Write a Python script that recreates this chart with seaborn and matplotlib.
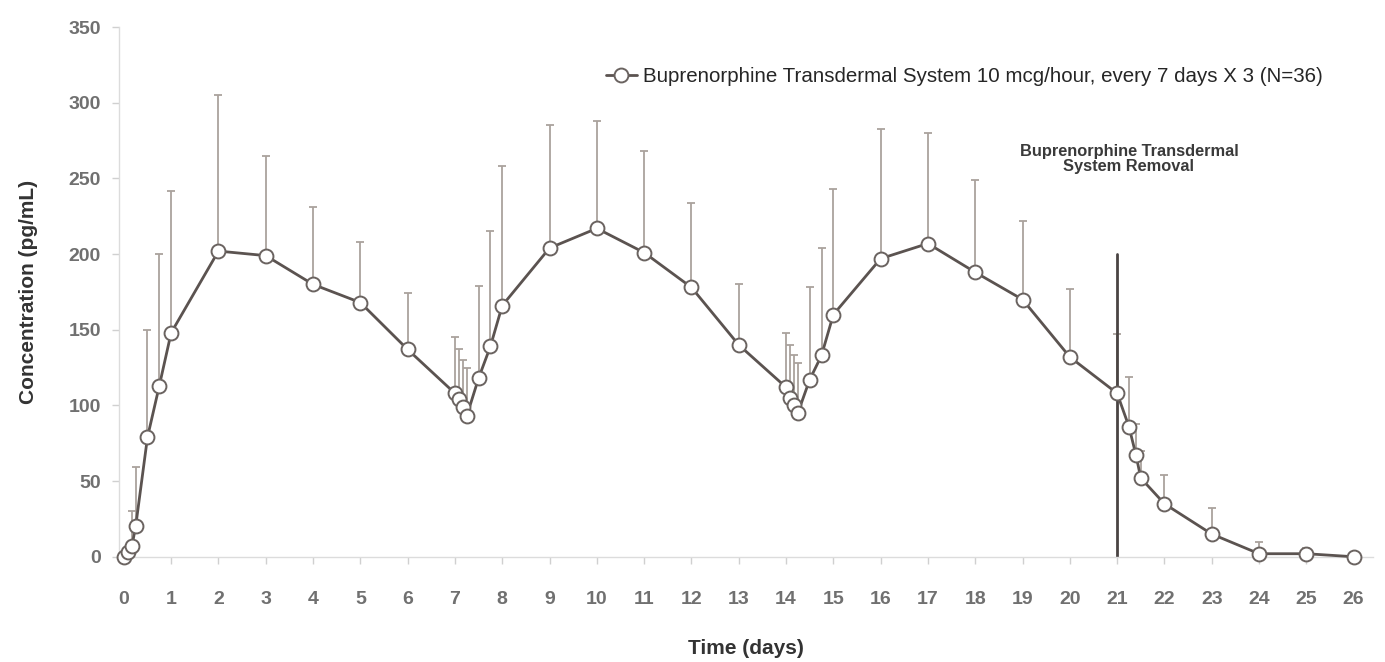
import numpy as np
import pandas as pd
import seaborn as sns
import matplotlib.pyplot as plt

# Mean buprenorphine concentration (pg/mL) over time (days), upper SD bar
time_days = [0, 0.08, 0.17, 0.25, 0.5, 0.75, 1, 2, 3, 4, 5, 6,
             7, 7.08, 7.17, 7.25, 7.5, 7.75, 8, 9, 10, 11, 12, 13,
             14, 14.08, 14.17, 14.25, 14.5, 14.75, 15, 16, 17, 18, 19, 20,
             21, 21.25, 21.4, 21.5, 22, 23, 24, 25, 26]
mean_conc = [0, 3, 7, 20, 79, 113, 148, 202, 199, 180, 168, 137,
             108, 104, 99, 93, 118, 139, 166, 204, 217, 201, 178, 140,
             112, 105, 100, 95, 117, 133, 160, 197, 207, 188, 170, 132,
             108, 86, 67, 52, 35, 15, 2, 2, 0]
upper_bar = [0, 4, 30, 59, 150, 200, 242, 305, 265, 231, 208, 174,
             145, 137, 130, 125, 179, 215, 258, 285, 288, 268, 234, 180,
             148, 140, 133, 128, 178, 204, 243, 283, 280, 249, 222, 177,
             147, 119, 88, 70, 54, 32, 10, 6, 0]

x_ticks = list(range(0, 27))
y_ticks = [0, 50, 100, 150, 200, 250, 300, 350]
series_label = "Buprenorphine Transdermal System 10 mcg/hour, every 7 days X 3 (N=36)"
removal_day = 21
removal_top = 200

df = pd.DataFrame({"time": time_days, "conc": mean_conc, "upper": upper_bar})

sns.set_style("white")
plt.rcParams['font.family'] = ['Liberation Sans', 'DejaVu Sans']
narrow = ['Liberation Sans Narrow', 'DejaVu Sans Condensed', 'Liberation Sans']

fig = plt.figure(figsize=(13.85, 6.62), dpi=100)
ax = fig.add_axes([0.086, 0.159, 0.905, 0.8])

line_col = "#5b5350"
err_col = "#aaa29d"

# upper-only error bars
ax.errorbar(df["time"], df["conc"], yerr=[np.zeros(len(df)), df["upper"] - df["conc"]],
            fmt="none", ecolor=err_col, elinewidth=1.3, capsize=3, capthick=1.3, zorder=1)

sns.lineplot(data=df, x="time", y="conc", ax=ax, color=line_col, linewidth=2,
             marker="o", markersize=10, markerfacecolor="white", markeredgecolor="#6a6360",
             markeredgewidth=1.4, label=series_label, zorder=3, clip_on=False)

# patch removal line
ax.plot([removal_day, removal_day], [0, removal_top], color="#4a4443", linewidth=2, zorder=2)
ax.text(removal_day + 0.25, 263, "Buprenorphine Transdermal\nSystem Removal", ha="center", va="center",
        fontsize=11.8, fontweight="bold", color="#3a3a3a", family=narrow, linespacing=1.0)

ax.set_xlim(-0.1, 26.4)
ax.set_ylim(0, 350)
ax.set_xticks(x_ticks)
ax.set_yticks(y_ticks)
ax.tick_params(axis="both", which="both", length=5, width=1, color="#d0d0d0",
               labelsize=14, labelcolor="#707070")
ax.tick_params(axis="x", bottom=True, pad=20)
ax.tick_params(axis="y", left=True, pad=8)
for lab in ax.get_xticklabels() + ax.get_yticklabels():
    lab.set_fontweight("bold")

for side in ["top", "right"]:
    ax.spines[side].set_visible(False)
for side in ["left", "bottom"]:
    ax.spines[side].set_color("#dcdcdc")
    ax.spines[side].set_linewidth(1)

ax.set_xlabel("Time (days)", fontsize=15, fontweight="bold", color="#333333", labelpad=22)
ax.set_ylabel("Concentration (pg/mL)", fontsize=15, fontweight="bold", color="#333333", labelpad=22)

leg = ax.legend(loc="upper right", bbox_to_anchor=(0.975, 0.96), frameon=False,
                handlelength=1.5, handletextpad=0.3,
                prop={"family": narrow, "size": 14.8})

plt.savefig("out.png", dpi=100)
